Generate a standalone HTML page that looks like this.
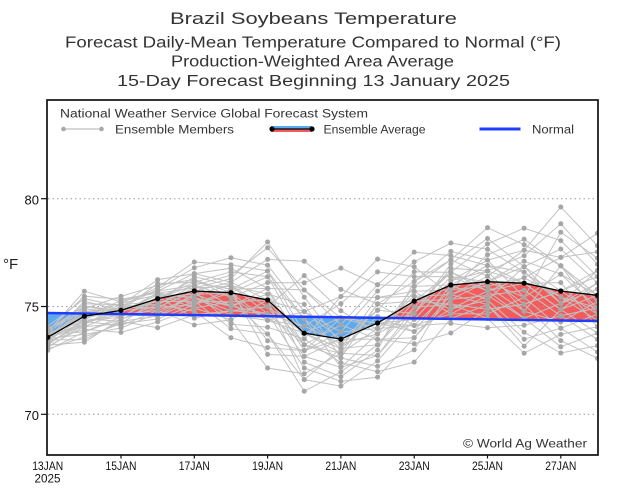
<!DOCTYPE html>
<html>
<head>
<meta charset="utf-8">
<style>
  html,body{margin:0;padding:0;background:#fff;}
  svg{display:block;}
  text{font-family:"Liberation Sans", sans-serif;}
</style>
</head>
<body>
<svg xmlns="http://www.w3.org/2000/svg" width="620" height="489" viewBox="0 0 620 489">
  <rect x="0" y="0" width="620" height="489" fill="#fff"/>
  <defs>
    <clipPath id="plot"><rect x="47" y="100" width="551" height="355"/></clipPath>
    <clipPath id="above"><polygon points="40,312.9 600,321.04 600,0 40,0"/></clipPath>
    <clipPath id="below"><polygon points="40,312.9 600,321.04 600,489 40,489"/></clipPath>
  </defs>

  <!-- Titles -->
  <g fill="#333" text-anchor="middle">
    <text x="313.5" y="24" font-size="17" textLength="287" lengthAdjust="spacingAndGlyphs">Brazil Soybeans Temperature</text>
    <text x="313" y="47.7" font-size="15.5" textLength="496" lengthAdjust="spacingAndGlyphs">Forecast Daily-Mean Temperature Compared to Normal (°F)</text>
    <text x="312.5" y="66.7" font-size="15.5" textLength="283" lengthAdjust="spacingAndGlyphs">Production-Weighted Area Average</text>
    <text x="313.5" y="86" font-size="15.5" textLength="393" lengthAdjust="spacingAndGlyphs">15-Day Forecast Beginning 13 January 2025</text>
  </g>

  <!-- Fills between mean and normal -->
  <g clip-path="url(#plot)">
    <polygon clip-path="url(#above)" fill="#f45c5c" points="47.7,337.3 84.35,316.2 121,310.4 157.65,298.7 194.3,291.0 230.95,292.7 267.6,300.0 304.25,333.2 340.9,339.1 377.55,323.1 414.2,301.1 450.85,285.0 487.5,281.7 524.15,283.2 560.8,291.0 597.45,295.3 597.45,321 47.7,313"/>
    <polygon clip-path="url(#below)" fill="#5aaaf2" points="47.7,337.3 84.35,316.2 121,310.4 157.65,298.7 194.3,291.0 230.95,292.7 267.6,300.0 304.25,333.2 340.9,339.1 377.55,323.1 414.2,301.1 450.85,285.0 487.5,281.7 524.15,283.2 560.8,291.0 597.45,295.3 597.45,321 47.7,313"/>
  </g>

  <!-- Gridlines -->
  <g stroke="#9a9a9a" stroke-width="1" stroke-dasharray="1.5,3">
    <line x1="48" y1="198.7" x2="597" y2="198.7"/>
    <line x1="48" y1="306.5" x2="597" y2="306.5"/>
    <line x1="48" y1="414.3" x2="597" y2="414.3"/>
  </g>

  <!-- Members -->
  <g id="members" clip-path="url(#plot)"></g>

  <!-- Normal -->
  <g clip-path="url(#plot)">
    <line x1="47.7" y1="313" x2="597.45" y2="321" stroke="#1f3dff" stroke-width="2.5"/>
    <!-- Ensemble average -->
    <polyline fill="none" stroke="#000" stroke-width="1.3" points="47.7,337.3 84.35,316.2 121,310.4 157.65,298.7 194.3,291.0 230.95,292.7 267.6,300.0 304.25,333.2 340.9,339.1 377.55,323.1 414.2,301.1 450.85,285.0 487.5,281.7 524.15,283.2 560.8,291.0 597.45,295.3"/>
    <g fill="#000">
      <circle cx="47.7" cy="337.3" r="2.6"/><circle cx="84.35" cy="316.2" r="2.6"/><circle cx="121" cy="310.4" r="2.6"/><circle cx="157.65" cy="298.7" r="2.6"/>
      <circle cx="194.3" cy="291.0" r="2.6"/><circle cx="230.95" cy="292.7" r="2.6"/><circle cx="267.6" cy="300.0" r="2.6"/><circle cx="304.25" cy="333.2" r="2.6"/>
      <circle cx="340.9" cy="339.1" r="2.6"/><circle cx="377.55" cy="323.1" r="2.6"/><circle cx="414.2" cy="301.1" r="2.6"/><circle cx="450.85" cy="285.0" r="2.6"/>
      <circle cx="487.5" cy="281.7" r="2.6"/><circle cx="524.15" cy="283.2" r="2.6"/><circle cx="560.8" cy="291.0" r="2.6"/><circle cx="597.45" cy="295.3" r="2.6"/>
    </g>
  </g>

  <!-- Frame -->
  <rect x="47" y="100" width="551" height="355" fill="none" stroke="#111" stroke-width="1.7"/>

  <!-- Y ticks & labels -->
  <g stroke="#111" stroke-width="1.2">
    <line x1="41" y1="198.7" x2="47" y2="198.7"/>
    <line x1="41" y1="306.5" x2="47" y2="306.5"/>
    <line x1="41" y1="414.3" x2="47" y2="414.3"/>
  </g>
  <g fill="#111" font-size="13" text-anchor="end">
    <text x="39" y="204.3">80</text>
    <text x="39" y="311.7">75</text>
    <text x="39" y="419.8">70</text>
  </g>
  <text x="3" y="269" font-size="15" fill="#222">°F</text>

  <!-- X ticks & labels -->
  <g stroke="#111" stroke-width="1.2">
    <line x1="121" y1="455" x2="121" y2="458.5"/>
    <line x1="194.3" y1="455" x2="194.3" y2="458.5"/>
    <line x1="267.6" y1="455" x2="267.6" y2="458.5"/>
    <line x1="340.9" y1="455" x2="340.9" y2="458.5"/>
    <line x1="414.2" y1="455" x2="414.2" y2="458.5"/>
    <line x1="487.5" y1="455" x2="487.5" y2="458.5"/>
    <line x1="560.8" y1="455" x2="560.8" y2="458.5"/>
  </g>
  <g fill="#111" font-size="12" text-anchor="middle">
    <text x="47.7" y="470" textLength="31" lengthAdjust="spacingAndGlyphs">13JAN</text>
    <text x="47.5" y="482.5" textLength="26" lengthAdjust="spacingAndGlyphs">2025</text>
    <text x="121" y="470" textLength="31" lengthAdjust="spacingAndGlyphs">15JAN</text>
    <text x="194.3" y="470" textLength="31" lengthAdjust="spacingAndGlyphs">17JAN</text>
    <text x="267.6" y="470" textLength="31" lengthAdjust="spacingAndGlyphs">19JAN</text>
    <text x="340.9" y="470" textLength="31" lengthAdjust="spacingAndGlyphs">21JAN</text>
    <text x="414.2" y="470" textLength="31" lengthAdjust="spacingAndGlyphs">23JAN</text>
    <text x="487.5" y="470" textLength="31" lengthAdjust="spacingAndGlyphs">25JAN</text>
    <text x="560.8" y="470" textLength="31" lengthAdjust="spacingAndGlyphs">27JAN</text>
  </g>

  <!-- Legend -->
  <g fill="#333" font-size="11.5">
    <text x="60" y="117.7" textLength="308" lengthAdjust="spacingAndGlyphs">National Weather Service Global Forecast System</text>
    <text x="115" y="133.3" textLength="119" lengthAdjust="spacingAndGlyphs">Ensemble Members</text>
    <text x="323.5" y="133.3" textLength="102" lengthAdjust="spacingAndGlyphs">Ensemble Average</text>
    <text x="532" y="133.3" textLength="42" lengthAdjust="spacingAndGlyphs">Normal</text>
    <text x="463" y="447.3" textLength="124" lengthAdjust="spacingAndGlyphs">© World Ag Weather</text>
  </g>
  <line x1="63" y1="129" x2="102" y2="129" stroke="#b0b0b0" stroke-width="1"/>
  <circle cx="63.5" cy="129" r="2.3" fill="#a8a8a8"/>
  <circle cx="101.5" cy="129" r="2.3" fill="#a8a8a8"/>
  <rect x="271" y="126" width="41" height="3" fill="#5aaaf2"/>
  <rect x="271" y="129" width="41" height="3" fill="#f45c5c"/>
  <line x1="271" y1="129" x2="312" y2="129" stroke="#000" stroke-width="1.3"/>
  <circle cx="272" cy="129" r="2.6" fill="#000"/>
  <circle cx="312" cy="129" r="2.6" fill="#000"/>
  <line x1="479.5" y1="129" x2="520.5" y2="129" stroke="#1f3dff" stroke-width="3"/>
</svg>

<script>
(function(){
  var X=[47.7,84.35,121,157.65,194.3,230.95,267.6,304.25,340.9,377.55,414.2,450.85,487.5,524.15,560.8,597.45];
  var M=[337.3,316.2,310.4,298.7,291.0,292.7,300.0,333.2,339.1,323.1,301.1,285.0,281.7,283.2,291.0,295.3];
  var U=[11,25,14,19,29,35,58,72,71,64,49,42,54,55,84,62];
  var D=[13,26,22,29,34,45,68,58,47,54,61,48,46,70,62,63];
  var F=[
   [0.0,-0.2,-0.1,0.1,0.3,0.2,0.5,0.8,1.0,0.7,0.3,-0.1,-0.4,-0.6,-1.0,-0.8],
   [-0.5,-1.0,-0.6,-0.4,-0.2,-0.5,-0.9,-0.6,-0.3,0.0,0.4,0.6,0.3,0.1,0.4,0.2],
   [1.0,0.6,0.3,0.0,-0.3,-0.6,-0.4,0.1,0.5,0.9,1.0,0.7,0.5,0.8,0.6,0.9],
   [0.3,0.5,1.0,0.8,0.5,0.2,0.0,-0.3,-0.6,-0.4,-0.1,0.2,0.0,-0.3,-0.5,-0.2],
   [-1.0,-0.7,-0.3,-0.6,-1.0,-0.8,-0.5,-0.2,0.2,0.4,0.1,-0.3,-0.7,-1.0,-0.6,-0.3],
   [0.6,1.0,0.4,0.2,0.6,1.0,0.7,0.3,-0.1,-0.5,-0.8,-1.0,-0.6,-0.2,0.1,0.4],
   [-0.2,0.1,0.5,1.0,0.7,0.4,0.2,0.6,0.9,1.0,0.6,0.2,-0.1,0.3,0.8,1.0],
   [0.4,-0.3,-1.0,-0.7,-0.4,0.0,0.3,-0.1,-0.5,-0.8,-0.5,-0.2,0.2,0.5,0.2,-0.1],
   [-0.7,-0.4,0.0,0.3,0.0,-0.3,-0.7,-1.0,-0.7,-0.3,0.0,0.4,0.8,1.0,0.7,0.5],
   [0.8,0.3,-0.2,-0.5,-0.8,-1.0,-0.6,-0.3,0.0,0.3,0.7,1.0,0.6,0.3,0.0,-0.4],
   [0.1,0.7,0.8,0.5,0.1,-0.2,0.1,0.4,0.6,0.2,-0.3,-0.6,-1.0,-0.7,-0.3,0.0],
   [-0.4,-0.5,-0.4,-1.0,-0.6,-0.3,0.0,0.2,-0.2,-0.6,-1.0,-0.7,-0.3,0.0,0.3,0.6],
   [0.5,0.2,0.2,0.4,1.0,0.6,1.0,0.7,0.3,0.1,0.4,0.8,1.0,0.6,0.4,0.7],
   [-0.1,0.4,0.6,0.0,-0.4,0.1,-0.3,-0.7,-1.0,-0.6,-0.3,0.0,0.4,0.7,1.0,0.8],
   [0.2,-0.1,-0.5,-0.2,0.2,0.5,0.3,0.0,0.3,0.6,0.2,-0.4,-0.2,-0.5,-0.8,-0.5],
   [-0.3,0.0,0.2,0.6,0.3,0.8,0.5,1.0,0.7,0.4,0.0,0.3,0.0,-0.4,-0.2,0.2],
   [0.7,0.4,0.1,-0.3,-0.1,-0.4,-1.0,-0.5,0.1,-0.2,-0.6,-0.3,0.1,0.4,0.5,0.1],
   [-0.6,-0.8,-0.8,-0.3,0.4,0.0,0.6,0.3,-0.3,0.0,0.5,0.5,0.2,-0.1,-0.4,-1.0],
   [0.0,0.3,-0.3,0.2,-0.2,0.3,-0.1,-0.4,0.4,0.8,0.8,0.1,-0.5,-0.8,-0.3,0.3],
   [0.9,0.8,0.6,0.7,0.4,-0.1,-0.5,0.0,0.2,-0.4,-0.2,0.6,0.7,0.2,-0.7,-0.6],
   [-0.8,-0.2,0.3,-0.1,0.8,0.4,0.1,-0.8,-0.4,0.2,0.2,-0.5,-0.8,-0.3,0.2,-0.2],
   [0.3,0.0,-0.7,-0.4,-0.6,-0.7,-0.2,0.5,0.8,0.5,-0.4,-0.8,-0.4,0.2,0.6,0.3],
   [-0.2,0.6,0.4,0.3,0.0,0.7,0.4,0.1,-0.6,-1.0,-0.7,0.2,0.5,0.9,0.3,0.0],
   [0.1,-0.6,0.0,-0.8,-0.3,-0.1,0.8,0.4,0.0,0.0,0.3,-0.1,-0.2,0.0,-0.1,0.5],
   [-0.4,0.2,0.7,0.4,0.2,0.3,-0.2,-0.6,-0.2,0.3,0.6,0.3,0.3,0.5,0.9,0.6],
   [0.6,0.1,-0.4,0.1,-0.5,-0.2,0.2,0.2,0.4,-0.3,-0.4,-0.6,-0.1,-0.6,-0.4,-0.7],
   [0.2,0.9,0.5,0.6,0.1,0.0,-0.4,-0.2,0.6,0.6,0.1,0.4,0.6,0.3,0.0,0.3],
   [-0.5,-0.3,0.1,-0.2,0.5,0.6,0.0,0.8,0.2,-0.1,0.5,0.0,-0.3,-0.2,0.2,-0.4],
   [0.1,0.2,0.3,-0.1,0.1,0.3,0.2,-0.1,0.1,0.2,-0.2,0.1,0.1,-0.1,0.1,0.2],
   [-0.1,-0.1,-0.2,0.2,-0.1,-0.2,-0.1,0.3,0.0,-0.2,0.2,-0.2,0.0,0.2,-0.2,0.0],
   [0.4,0.3,0.0,0.0,-0.2,0.1,0.3,-0.3,-0.1,0.1,0.0,-0.3,0.2,0.0,0.3,-0.2],
   [-0.3,0.1,-0.2,0.3,0.4,-0.1,-0.2,0.2,0.3,-0.3,0.4,0.1,-0.2,0.4,-0.3,0.1],
   [0.2,-0.4,0.1,-0.3,0.2,0.4,0.1,0.0,-0.3,0.1,-0.1,0.5,0.4,-0.3,0.0,-0.3]
  ];
  var lines='',dots='';
  for(var k=0;k<F.length;k++){
    var f=F[k],pts=[];
    for(var i=0;i<16;i++){
      var v=f[i];
      var y=M[i]+(v<0?v*U[i]:v*D[i]);
      pts.push(X[i].toFixed(2)+','+y.toFixed(1));
      dots+='<circle cx="'+X[i].toFixed(2)+'" cy="'+y.toFixed(1)+'" r="2.5"/>';
    }
    lines+='<polyline points="'+pts.join(' ')+'"/>';
  }
  document.getElementById('members').innerHTML=
    '<g fill="none" stroke="#c2c2c2" stroke-width="1">'+lines+'</g><g fill="#a6a6a6">'+dots+'</g>';
})();
</script>
</body>
</html>
